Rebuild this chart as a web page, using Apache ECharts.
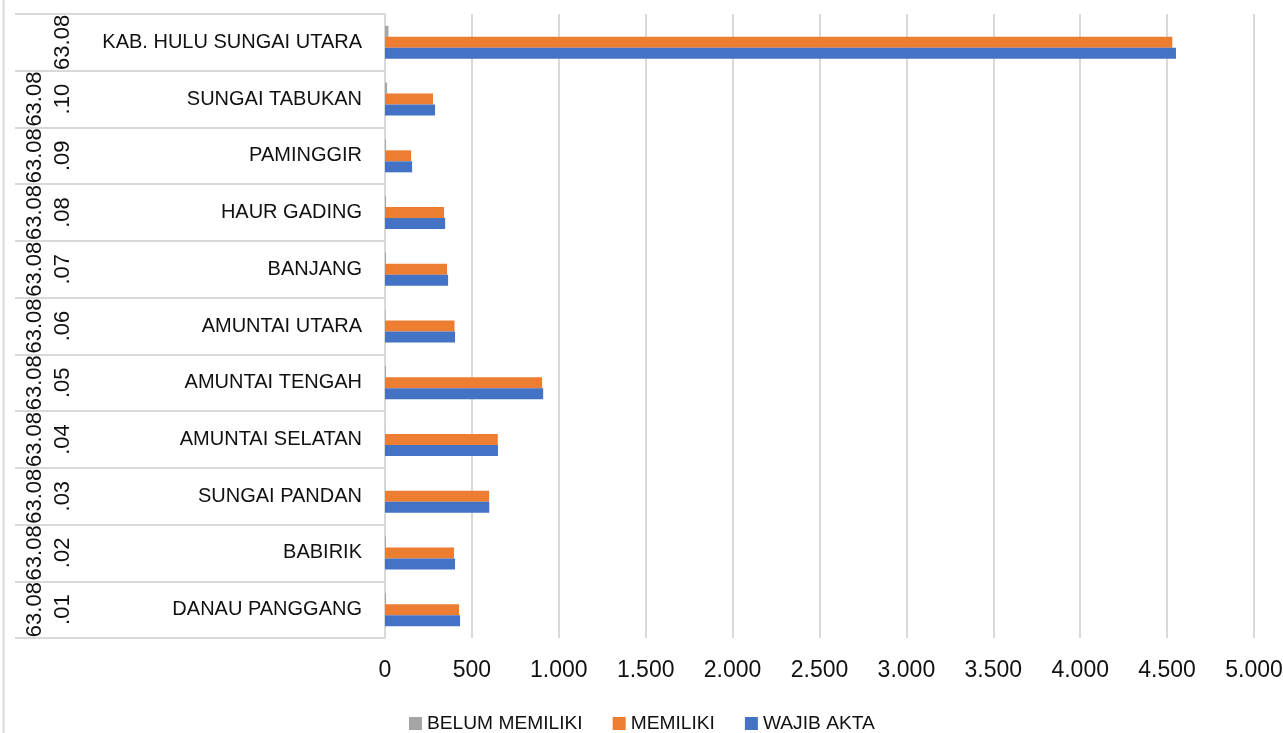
<!DOCTYPE html>
<html>
<head>
<meta charset="utf-8">
<script src="https://cdn.jsdelivr.net/npm/echarts@6/dist/echarts.min.js"></script>
<style>
  html, body { margin: 0; padding: 0; background: #fff; }
  #chart { width: 1283px; height: 733px; }
</style>
</head>
<body>
<div id="chart"></div>
<script>
// categories from bottom to top
const codes = ['63.08.01', '63.08.02', '63.08.03', '63.08.04', '63.08.05', '63.08.06',
  '63.08.07', '63.08.08', '63.08.09', '63.08.10', '63.08'];
const names = ['DANAU PANGGANG', 'BABIRIK', 'SUNGAI PANDAN', 'AMUNTAI SELATAN', 'AMUNTAI TENGAH',
  'AMUNTAI UTARA', 'BANJANG', 'HAUR GADING', 'PAMINGGIR', 'SUNGAI TABUKAN', 'KAB. HULU SUNGAI UTARA'];

const belumMemiliki = [6, 6, 1, 1, 6, 3, 6, 6, 6, 12, 20];
const memiliki = [426, 397, 599, 649, 904, 400, 357, 340, 150, 276, 4530];
const wajibAkta = [432, 403, 600, 650, 910, 403, 363, 346, 156, 288, 4551];

const xTicks = { min: 0, max: 5000, interval: 500 };

const narrow = '"Liberation Sans Narrow", "Liberation Sans", sans-serif';
const gridCol = '#d9d9d9';
const textCol = '#111';

const chart = echarts.init(document.getElementById('chart'));

const option = {
  animation: false,
  grid: {
    left: 385, right: 29, top: 14, bottom: 95,
    outerBoundsMode: 'none'
  },
  legend: {
    data: ['BELUM MEMILIKI', 'MEMILIKI', 'WAJIB AKTA'],
    left: 409,
    top: 714,
    padding: 0,
    icon: 'rect',
    itemWidth: 13,
    itemHeight: 13,
    itemGap: 30,
    textStyle: { fontFamily: narrow, fontSize: 19.2, color: textCol }
  },
  xAxis: {
    type: 'value',
    min: xTicks.min,
    max: xTicks.max,
    interval: xTicks.interval,
    axisLine: { show: false },
    axisTick: { show: false },
    splitLine: { lineStyle: { color: gridCol, width: 2 } },
    axisLabel: {
      fontFamily: narrow, fontSize: 23, color: textCol, margin: 21,
      formatter: v => v >= 1000 ? Math.floor(v / 1000) + '.' + String(v % 1000).padStart(3, '0') : String(v)
    }
  },
  yAxis: [
    {
      type: 'category',
      data: names,
      axisLine: { show: true, lineStyle: { color: gridCol, width: 2 } },
      axisTick: { show: true, length: 370, lineStyle: { color: gridCol, width: 2 } },
      axisLabel: { fontFamily: narrow, fontSize: 20, color: textCol, margin: 23, interval: 0 }
    },
    {
      type: 'category',
      position: 'left',
      data: codes,
      axisLine: { show: false },
      axisTick: { show: false },
      axisLabel: {
        fontFamily: '"Liberation Sans", sans-serif', fontSize: 22, color: textCol,
        rotate: 90, margin: 336, lineHeight: 28, interval: 0,
        align: 'center', verticalAlign: 'middle',
        formatter: c => c.length > 5 ? c.slice(0, 5) + '\n' + c.slice(5) : ' \n' + c
      }
    }
  ],
  series: [
    {
      name: 'BELUM MEMILIKI', type: 'bar', data: belumMemiliki,
      barWidth: 11, barGap: '0%', itemStyle: { color: '#a5a5a5' }
    },
    {
      name: 'MEMILIKI', type: 'bar', data: memiliki,
      barWidth: 11, barGap: '0%', itemStyle: { color: '#ed7d31' }
    },
    {
      name: 'WAJIB AKTA', type: 'bar', data: wajibAkta,
      barWidth: 11, barGap: '0%', itemStyle: { color: '#4472c4' }
    }
  ],
  graphic: [
    {
      type: 'line', silent: true,
      shape: { x1: 3.5, y1: 0, x2: 3.5, y2: 733 },
      style: { stroke: gridCol, lineWidth: 2 }
    }
  ]
};

chart.setOption(option);
</script>
</body>
</html>
